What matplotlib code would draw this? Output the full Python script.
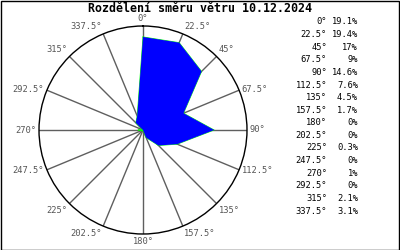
import numpy as np
import matplotlib
matplotlib.use("Agg")
import matplotlib.pyplot as plt

title = "Rozdělení směru větru 10.12.2024"
directions = [0, 22.5, 45, 67.5, 90, 112.5, 135, 157.5, 180, 202.5, 225, 247.5, 270, 292.5, 315, 337.5]
dir_labels = ["0°", "22.5°", "45°", "67.5°", "90°", "112.5°", "135°", "157.5°", "180°",
              "202.5°", "225°", "247.5°", "270°", "292.5°", "315°", "337.5°"]
pct_labels = ["19.1%", "19.4%", "17%", "9%", "14.6%", "7.6%", "4.5%", "1.7%", "0%",
              "0%", "0.3%", "0%", "1%", "0%", "2.1%", "3.1%"]
values = [19.1, 19.4, 17, 9, 14.6, 7.6, 4.5, 1.7, 0, 0, 0.3, 0, 1, 0, 2.1, 3.1]

W, H = 400, 250
fig = plt.figure(figsize=(W / 100, H / 100), dpi=100)
fig.patch.set_facecolor("white")

cx, cy, R = 143, 130, 104
ax = fig.add_axes([(cx - R) / W, (H - cy - R) / H, 2 * R / W, 2 * R / H], projection="polar")
ax.set_theta_zero_location("N")
ax.set_theta_direction(-1)
rmax = max(values) * 1.1
ax.set_ylim(0, rmax)
ax.set_yticks([])
theta = np.deg2rad(directions)
ax.set_xticks(theta)
ax.set_xticklabels([])
ax.tick_params(axis="x", length=0)
ax.xaxis.grid(True, color="#5f5f5f", linewidth=1.0)
ax.yaxis.grid(False)
ax.spines["polar"].set_color("black")
ax.spines["polar"].set_linewidth(1.0)

for t, lab in zip(theta, dir_labels):
    s, c = np.sin(t), np.cos(t)
    ha = "left" if s > 0.3 else ("right" if s < -0.3 else "center")
    va = "bottom" if c > 0.5 else ("top" if c < -0.5 else "center")
    ax.annotate(lab, xy=(t, rmax), xytext=(3 * s, 3 * c), textcoords="offset pixels",
                ha=ha, va=va, fontsize=6.3, family="DejaVu Sans Mono", color="#555555",
                annotation_clip=False)

th = np.append(theta, theta[0])
vv = np.append(values, values[0])
ax.plot(th, vv, color="#00ff00", linewidth=0.6, zorder=3)
ax.fill(th, vv, color="#0000ff", linewidth=0, zorder=4)

fig.text(200 / W, 1 - 8.5 / H, title, ha="center", va="center", fontsize=8.4,
         fontweight="bold", family="DejaVu Sans Mono")

y0, dy = 22, 12.6
for i, (a, p) in enumerate(zip(dir_labels, pct_labels)):
    y = 1 - (y0 + i * dy) / H
    fig.text(327 / W, y, a, ha="right", va="center", fontsize=6.3, family="DejaVu Sans Mono")
    fig.text(358 / W, y, p, ha="right", va="center", fontsize=6.3, family="DejaVu Sans Mono")

fig.add_artist(plt.Rectangle((0.5 / W, 0.5 / H), 1 - 1.5 / W, 1 - 1.5 / H,
                             transform=fig.transFigure, fill=False, edgecolor="black", linewidth=1))
fig.savefig("out.png", dpi=100)
